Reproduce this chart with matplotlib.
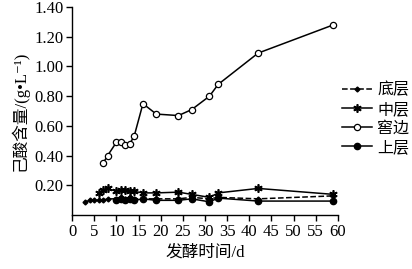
import numpy as np
import matplotlib.pyplot as plt

plt.rcParams['font.family'] = ['Liberation Serif', 'Noto Sans CJK SC', 'DejaVu Sans']
plt.rcParams['axes.unicode_minus'] = False

# 发酵时间 (d)
dias_fundo = [3, 4, 5, 6, 7, 8, 10, 11, 12, 13, 14, 16, 19, 24, 27, 31, 33, 42, 59]
dias_meio = [6, 7, 8, 10, 11, 12, 13, 14, 16, 19, 24, 27, 31, 33, 42, 59]
dias_borda = [7, 8, 10, 11, 12, 13, 14, 16, 19, 24, 27, 31, 33, 42, 59]
dias_topo = [10, 11, 12, 13, 14, 16, 19, 24, 27, 31, 33, 42, 59]

# 己酸含量 (g/L)
fundo = [0.09, 0.10, 0.10, 0.10, 0.10, 0.11, 0.11, 0.12, 0.11, 0.12, 0.11, 0.11, 0.11,
         0.11, 0.12, 0.11, 0.12, 0.11, 0.13]
meio = [0.15, 0.17, 0.18, 0.16, 0.17, 0.17, 0.16, 0.16, 0.15, 0.15, 0.155, 0.14, 0.12,
        0.15, 0.18, 0.14]
borda = [0.35, 0.40, 0.49, 0.49, 0.47, 0.48, 0.53, 0.75, 0.68, 0.67, 0.71, 0.80, 0.88,
         1.09, 1.28]
topo = [0.10, 0.11, 0.10, 0.11, 0.10, 0.11, 0.10, 0.10, 0.11, 0.09, 0.115, 0.095, 0.095]

rotulos = ['底层', '中层', '窖边', '上层']

fig = plt.figure(figsize=(4.12, 2.69), dpi=100)
ax = fig.add_axes([0.175, 0.2, 0.645, 0.774])

ax.plot(dias_fundo, fundo, color='black', linestyle='--', lw=1.1, marker='D',
        markersize=2.5, label=rotulos[0])
ax.plot(dias_meio, meio, color='black', lw=1.1, marker=(6, 2, 0), markersize=6,
        markeredgewidth=1.2, label=rotulos[1])
ax.plot(dias_borda, borda, color='black', lw=1.1, marker='o', markersize=4.5,
        markerfacecolor='white', markeredgewidth=0.9, label=rotulos[2])
ax.plot(dias_topo, topo, color='black', lw=1.1, marker='o', markersize=4.5,
        label=rotulos[3])

ax.set_xlim(0, 60)
ax.set_ylim(0, 1.4)
ax.set_xticks(np.arange(0, 61, 5))
ax.set_yticks(np.arange(0.2, 1.41, 0.2))
ax.set_yticklabels(['%.2f' % v for v in np.arange(0.2, 1.41, 0.2)])
ax.tick_params(direction='out', length=4, width=1, labelsize=12, pad=2)
ax.spines['top'].set_visible(False)
ax.spines['right'].set_visible(False)
ax.spines['left'].set_linewidth(1)
ax.spines['bottom'].set_linewidth(1)

ax.set_xlabel('发酵时间/d', fontsize=12, labelpad=4)
ax.set_ylabel('己酸含量/(g•L\u207b\u00b9)', fontsize=12, labelpad=4)

ax.legend(loc='upper left', bbox_to_anchor=(1.01, 0.645), frameon=False, fontsize=11.5,
          handlelength=1.9, handletextpad=0.3, labelspacing=0.2, borderaxespad=0,
          borderpad=0.1)

fig.savefig('out.png', dpi=100)
